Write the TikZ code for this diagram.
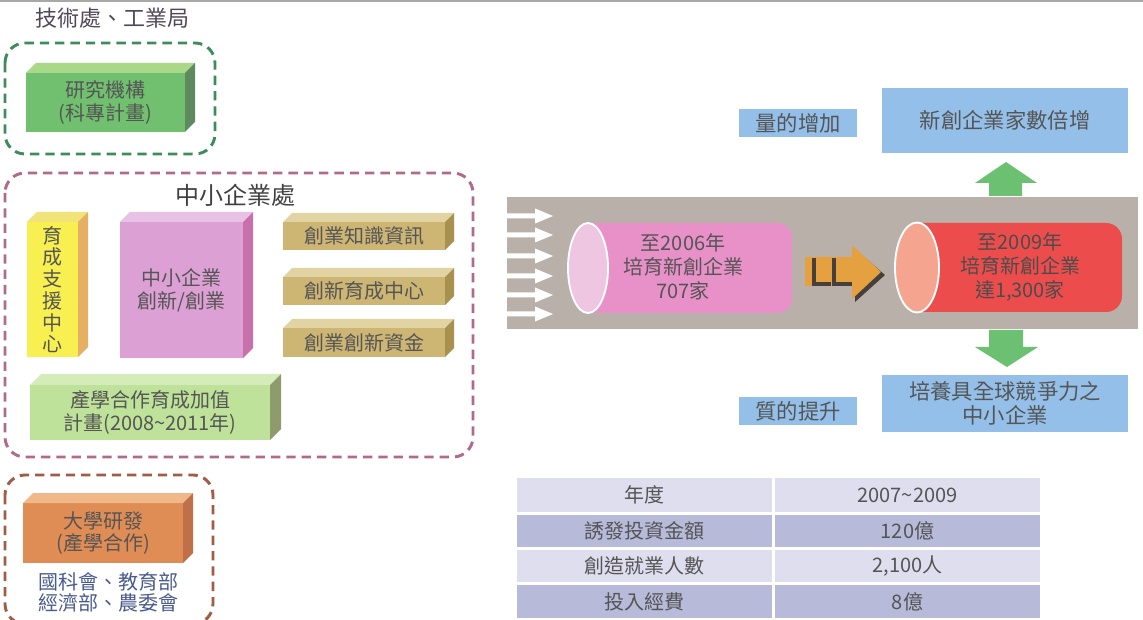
\documentclass[tikz,border=0pt]{standalone}
\usepackage{fontspec}
\setmainfont{Noto Sans CJK TC}
\definecolor{txt}{HTML}{555555}
\definecolor{topline}{HTML}{A8A8A8}
\definecolor{dgreen}{HTML}{3C8C5C}
\definecolor{dpink}{HTML}{B06A8C}
\definecolor{dbrown}{HTML}{A05C44}
\definecolor{gfront}{HTML}{70C070}
\definecolor{gtop}{HTML}{A8D888}
\definecolor{gside}{HTML}{5F8A5F}
\definecolor{yfront}{HTML}{F8F050}
\definecolor{ytop}{HTML}{F2E27A}
\definecolor{yside}{HTML}{E6B062}
\definecolor{pfront}{HTML}{DCA0D4}
\definecolor{ptop}{HTML}{E8C2E4}
\definecolor{pside}{HTML}{C870AA}
\definecolor{tfront}{HTML}{CDB573}
\definecolor{ttop}{HTML}{E2D4A2}
\definecolor{tside}{HTML}{A8904E}
\definecolor{lfront}{HTML}{BFE29A}
\definecolor{ltop}{HTML}{D4ECBA}
\definecolor{lside}{HTML}{8F9A6E}
\definecolor{bfront}{HTML}{E08C55}
\definecolor{btop}{HTML}{F0B888}
\definecolor{bside}{HTML}{C07048}
\definecolor{bandc}{HTML}{B9B1A9}
\definecolor{pinkbody}{HTML}{E890C8}
\definecolor{pinkend}{HTML}{EFC6E2}
\definecolor{redbody}{HTML}{EC4C4C}
\definecolor{redend}{HTML}{F4A48F}
\definecolor{orangearr}{HTML}{E5A040}
\definecolor{shadowc}{HTML}{45403C}
\definecolor{garrow}{HTML}{6CC072}
\definecolor{bluebox}{HTML}{93BFE9}
\definecolor{rowlight}{HTML}{DFDEEE}
\definecolor{rowdark}{HTML}{B7BAD9}
\definecolor{titlec}{HTML}{4E4858}
\definecolor{agencyc}{HTML}{4A5A90}
\newcommand{\topside}[4]{%
  \fill[#3] (#1.north west) -- ++(#2,-#2) -- ([shift={(#2,-#2)}]#1.north east) -- (#1.north east) -- cycle;
  \fill[#4] (#1.north east) -- ([shift={(#2,-#2)}]#1.north east) -- ([shift={(#2,-#2)}]#1.south east) -- (#1.south east) -- cycle;}
\begin{document}
\begin{tikzpicture}[x=0.75pt,y=-0.75pt,
  sz/.style 2 args={minimum width=#1*0.75pt, minimum height=#2*0.75pt},
  face/.style={inner sep=0pt, outer sep=0pt, align=center, text=txt, font=\fontsize{15}{17}\selectfont},
  dashbox/.style={line width=2.2pt, dash pattern=on 7pt off 4.5pt, rounded corners=15pt},
  titletext/.style={inner sep=0pt, text=titlec},
  bluetag/.style={face, fill=bluebox, font=\fontsize{16}{18.5}\selectfont},
  cell/.style={face, font=\fontsize{15}{17}\selectfont},
  cyltext/.style={face, font=\fontsize{15}{18}\selectfont}
]
\useasboundingbox (0,0) rectangle (1143,620);
\fill[topline] (0,0) rectangle (1143,2.5);

% titles
\node[titletext, font=\fontsize{16.5}{18}\selectfont] (t1) at (113,18) {技術處、工業局};
\node[titletext, text=black!75, font=\fontsize{18}{20}\selectfont] (t2) at (235,195) {中小企業處};
\node[titletext, text=agencyc, align=center, font=\fontsize{15}{16}\selectfont] (t3) at (108,592.5) {國科會、教育部\\經濟部、農委會};

% dashed groups
\draw[dashbox, dgreen] (5,43) rectangle (215,154);
\draw[dashbox, dpink] (5,173) rectangle (473,457);
\draw[dashbox, dbrown] (5,475) rectangle (213,624);

% cuboids
\node[face, fill=gfront, sz={159}{59}] (rnd) at (105.5,102.5) {研究機構\\(科專計畫)};
\topside{rnd}{10}{gtop}{gside}
\node[face, fill=yfront, sz={51}{135}, font=\fontsize{15}{16.3}\selectfont] (inc) at (52.5,289.5) {育\\成\\支\\援\\中\\心};
\topside{inc}{10}{ytop}{yside}
\node[face, fill=pfront, sz={123}{136}] (sme) at (181.5,290) {中小企業\\創新/創業};
\topside{sme}{10}{ptop}{pside}
\node[face, fill=tfront, sz={162}{28}] (k1) at (364,236) {創業知識資訊};
\topside{k1}{9}{ttop}{tside}
\node[face, fill=tfront, sz={162}{28}] (k2) at (364,291) {創新育成中心};
\topside{k2}{9}{ttop}{tside}
\node[face, fill=tfront, sz={162}{29}] (k3) at (364,342.5) {創業創新資金};
\topside{k3}{9}{ttop}{tside}
\node[face, fill=lfront, sz={240}{55}] (iac) at (150,412.5) {產學合作育成加值\\計畫(2008\textasciitilde 2011年)};
\topside{iac}{11}{ltop}{lside}
\node[face, fill=bfront, sz={160}{60}] (uni) at (103,533) {大學研發\\(產學合作)};
\topside{uni}{10}{btop}{bside}

% band
\node[fill=bandc, inner sep=0pt, outer sep=0pt, sz={631}{132}] (band) at (822.5,263) {};
\foreach \yy in {216,235,256,276,295,314}{
  \fill[white] (507,\yy-2.5) -- (535,\yy-2.5) -- (535,\yy-7.5) -- (553,\yy) -- (535,\yy+7.5) -- (535,\yy+2.5) -- (507,\yy+2.5) -- cycle;
}

% pink cylinder
\fill[pinkbody] (588,223) -- (778,223) arc[start angle=-90, end angle=0, radius=14] -- (792,299) arc[start angle=0, end angle=90, radius=14] -- (588,313) -- cycle;
\draw[white, line width=1.4pt, fill=pinkend] (588,268) ellipse [x radius=20, y radius=45];
\node[cyltext] (c1) at (683,267) {至2006年\\培育新創企業\\707家};

% orange arrow
\fill[shadowc] (855,249) -- (885,275) -- (855,302) -- cycle;
\fill[orangearr] (805,257) -- (852,257) -- (852,245) -- (881,272) -- (852,299) -- (852,286) -- (805,286) -- cycle;
\draw[shadowc, line width=2.4pt] (814,258) -- (814,284) -- (831,284);
\draw[shadowc, line width=2.4pt] (834,258) -- (834,284) -- (852,284);

% red cylinder
\fill[redbody] (917,223) -- (1106,223) arc[start angle=-90, end angle=0, radius=16] -- (1122,296) arc[start angle=0, end angle=90, radius=16] -- (917,312) -- cycle;
\draw[white, line width=1.4pt, fill=redend] (917,267.5) ellipse [x radius=22, y radius=45];
\node[cyltext, text=black!70] (c2) at (1020,267) {至2009年\\培育新創企業\\達1,300家};

% green arrows
\fill[garrow] (989,196) -- (989,183) -- (975,183) -- (1006,162) -- (1037,183) -- (1022,183) -- (1022,196) -- cycle;
\fill[garrow] (989,330) -- (1023,330) -- (1023,347) -- (1038,347) -- (1007,367) -- (975,347) -- (989,347) -- cycle;

% blue boxes
\node[bluetag, sz={246}{65}] (g1) at (1005,120.5) {新創企業家數倍增};
\node[bluetag, sz={118}{28}] (q1) at (798,123) {量的增加};
\node[bluetag, sz={246}{57}] (g2) at (1005,403.5) {培養具全球競爭力之\\中小企業};
\node[bluetag, sz={118}{28}] (q2) at (798,411) {質的提升};

% table
\node[cell, fill=rowlight, sz={255}{34}] (r1a) at (644.5,495) {年度};
\node[cell, fill=rowlight, sz={265}{34}] (r1b) at (907.5,495) {2007\textasciitilde 2009};
\node[cell, fill=rowdark, sz={255}{32}] (r2a) at (644.5,531) {誘發投資金額};
\node[cell, fill=rowdark, sz={265}{32}] (r2b) at (907.5,531) {120億};
\node[cell, fill=rowlight, sz={255}{32}] (r3a) at (644.5,566) {創造就業人數};
\node[cell, fill=rowlight, sz={265}{32}] (r3b) at (907.5,566) {2,100人};
\node[cell, fill=rowdark, sz={255}{33}] (r4a) at (644.5,601.5) {投入經費};
\node[cell, fill=rowdark, sz={265}{33}] (r4b) at (907.5,601.5) {8億};
\end{tikzpicture}
\end{document}
